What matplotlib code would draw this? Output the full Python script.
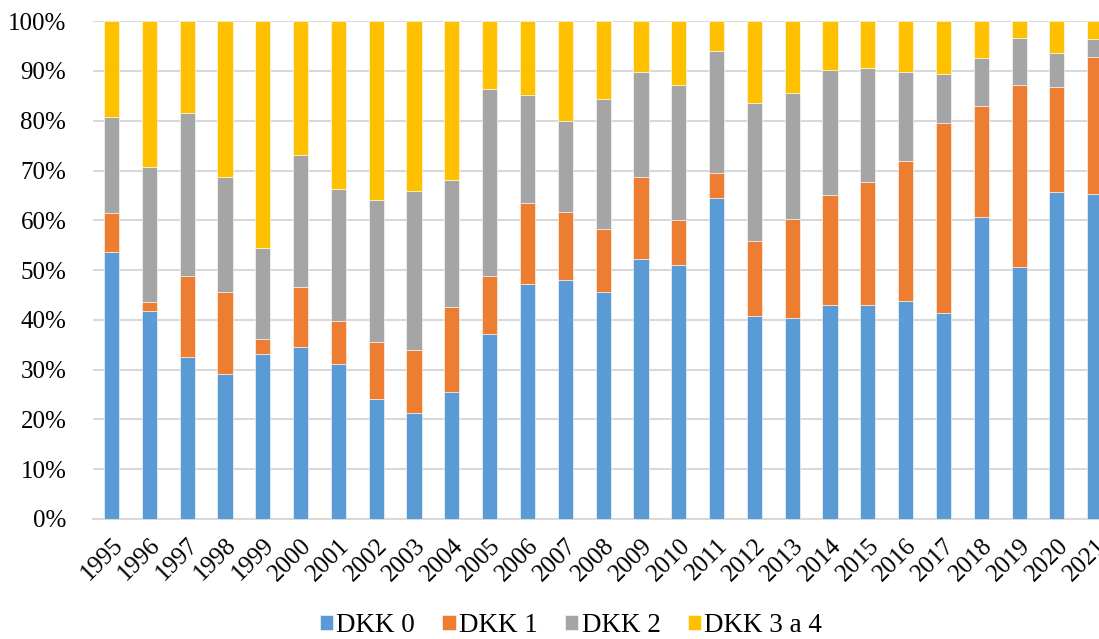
import matplotlib.pyplot as plt
import numpy as np

years = [str(y) for y in range(1995, 2022)]

# cumulative tops (%), converted to shares below
top_dkk0 = [53.7, 41.7, 32.5, 29.1, 33.2, 34.6, 31.2, 24.1, 21.2, 25.6, 37.2, 47.2, 48.1, 45.7,
            52.2, 51.0, 64.4, 40.8, 40.4, 43.0, 43.0, 43.8, 41.4, 60.6, 50.6, 65.6, 65.2]
top_dkk1 = [61.5, 43.6, 48.9, 45.7, 36.2, 46.6, 39.8, 35.6, 34.0, 42.6, 48.9, 63.4, 61.7, 58.3,
            68.8, 60.1, 69.5, 55.9, 60.2, 65.0, 67.6, 71.9, 79.5, 82.9, 87.2, 86.7, 92.8]
top_dkk2 = [80.7, 70.8, 81.6, 68.7, 54.5, 73.2, 66.2, 64.1, 65.8, 68.2, 86.3, 85.1, 80.0, 84.3,
            89.8, 87.2, 94.0, 83.5, 85.6, 90.2, 90.6, 89.7, 89.4, 92.6, 96.6, 93.6, 96.4]

dkk0 = np.array(top_dkk0)
dkk1 = np.array(top_dkk1) - dkk0
dkk2 = np.array(top_dkk2) - np.array(top_dkk1)
dkk34 = 100 - np.array(top_dkk2)

series = [("DKK 0", dkk0, "#5B9BD5"),
          ("DKK 1", dkk1, "#ED7D31"),
          ("DKK 2", dkk2, "#A5A5A5"),
          ("DKK 3 a 4", dkk34, "#FFC000")]

plt.rcParams['font.family'] = ['Liberation Serif', 'DejaVu Serif']

fig = plt.figure(figsize=(10.99, 6.39), dpi=100)
ax = fig.add_axes([0.0843, 0.1878, 0.929, 0.779])

x = np.arange(len(years))
bottom = np.zeros(len(years))
for name, vals, col in series:
    ax.bar(x, vals, 0.4, bottom=bottom, color=col, label=name,
           edgecolor="white", linewidth=0.4, zorder=3)
    bottom += vals

ax.set_xlim(-0.5, len(years) - 0.5)
ax.set_ylim(0, 100)
ax.set_yticks(range(0, 101, 10))
ax.set_yticklabels([f"{v}%" for v in range(0, 101, 10)], fontsize=18)
ax.set_xticks(x)
ax.set_xticklabels(years, fontsize=18, rotation=45, ha="right", rotation_mode="anchor")
ax.tick_params(axis="y", length=0, pad=19)
ax.tick_params(axis="x", length=0, pad=11)

ax.grid(axis="y", color="#d9d9d9", linewidth=1.5, zorder=0)
for s in ["top", "right", "left"]:
    ax.spines[s].set_visible(False)
ax.spines["bottom"].set_color("#d9d9d9")
ax.spines["bottom"].set_linewidth(1.5)

fig.legend(loc="center", bbox_to_anchor=(0.5196, 0.021), ncol=4, frameon=False,
           fontsize=19.5, handlelength=0.5, handleheight=0.5, handletextpad=0.12,
           columnspacing=1.0, borderpad=0)

fig.savefig("out.png", dpi=100)
